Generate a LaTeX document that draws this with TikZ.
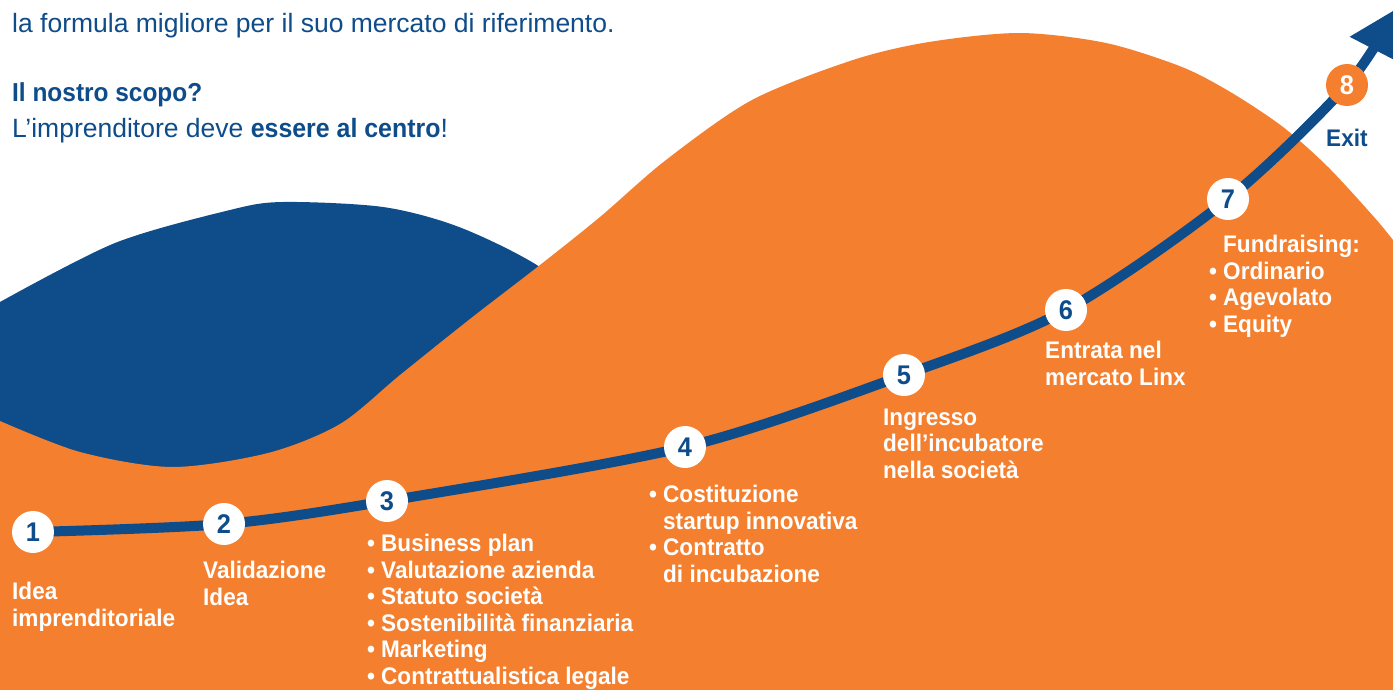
\documentclass[tikz,border=0pt]{standalone}
\usepackage{fontspec}
\setmainfont{Liberation Sans}[BoldFont={Liberation Sans Bold},BoldFeatures={FakeStretch=0.94}]
\usetikzlibrary{arrows.meta}
\definecolor{lblue}{HTML}{0E4C8A}
\definecolor{lorange}{HTML}{F47F2E}
\newcommand{\bul}{\makebox[14pt][l]{•}}
\newcommand{\ind}{\hspace*{14pt}}
\begin{document}
\begin{tikzpicture}[x=1pt,y=-1pt,
  lbl/.style={anchor=base west,align=left,inner sep=0pt,text=white,
    font=\fontsize{24}{26.5}\selectfont\bfseries},
  toptxt/.style={anchor=base west,inner sep=0pt,text=lblue,
    font=\fontsize{26.5}{30}\selectfont},
  num/.style={circle,minimum size=42pt,inner sep=0pt,fill=white,text=lblue,
    font=\fontsize{27}{27}\selectfont\bfseries},
  numlast/.style={num,fill=lorange,text=white},
  track/.style={line width=10pt,draw=lblue,-{Triangle[length=46pt,width=54pt]}}]
\useasboundingbox (0,0) rectangle (1393,690);
\clip (0,0) rectangle (1393,690);
\fill[white] (0,0) rectangle (1393,690);
% blue wave
\fill[lblue] plot[smooth] coordinates {(0,302) (115,243) (230,210) (283,202) (383,207) (459,227) (540,267) (620,330)}
  -- (620,690) -- (0,690) -- cycle;
% orange hill
\fill[lorange] plot[smooth] coordinates {(0,421) (80,452) (172,467) (268,453) (340,424) (400,375) (470,319) (540,265) (600,217) (666,160) (752,100) (853,60) (929,42) (1020,33) (1106,43) (1182,67) (1232,93) (1283,127) (1328,167) (1374,217) (1393,240)}
  -- (1393,690) -- (0,690) -- cycle;
% top text
\node[toptxt] (t1) at (12,33) {la formula migliore per il suo mercato di riferimento.};
\node[toptxt,font=\fontsize{26}{30}\selectfont\bfseries] (t2) at (12,102) {Il nostro scopo?};
\node[toptxt] (t3) at (12,138) {L'imprenditore deve \textbf{essere al centro}!};
% track
\coordinate (p1) at (33,532);
\coordinate (p2) at (224,524);
\coordinate (p3) at (387,501);
\coordinate (p4) at (685,447);
\coordinate (p5) at (904,375);
\coordinate (p6) at (1066,310);
\coordinate (p7) at (1228,199);
\coordinate (p8) at (1347,85);
\coordinate (pe) at (1396,9);
\draw[track] plot[smooth] coordinates {(p1) (p2) (p3) (p4) (p5) (p6) (p7) (p8) (pe)};
\node[num] (n1) at (p1) {1};
\node[num] (n2) at (p2) {2};
\node[num] (n3) at (p3) {3};
\node[num] (n4) at (p4) {4};
\node[num] (n5) at (p5) {5};
\node[num] (n6) at (p6) {6};
\node[num] (n7) at (p7) {7};
\node[numlast] (n8) at (p8) {8};
% labels (anchored at the baseline of the last line)
\node[lbl] (l1) at (12,626) {Idea\\imprenditoriale};
\node[lbl] (l2) at (203,605) {Validazione\\Idea};
\node[lbl] (l3) at (367,684) {\bul Business plan\\\bul Valutazione azienda\\\bul Statuto società\\\bul Sostenibilità finanziaria\\\bul Marketing\\\bul Contrattualistica legale};
\node[lbl] (l4) at (649,582) {\bul Costituzione\\\ind startup innovativa\\\bul Contratto\\\ind di incubazione};
\node[lbl] (l5) at (883,478) {Ingresso\\dell’incubatore\\nella società};
\node[lbl] (l6) at (1045,385) {Entrata nel\\mercato Linx};
\node[lbl] (l7) at (1209,332) {\ind Fundraising:\\\bul Ordinario\\\bul Agevolato\\\bul Equity};
\node[lbl,text=lblue] (l8) at (1326,147) {Exit};
\end{tikzpicture}
\end{document}
